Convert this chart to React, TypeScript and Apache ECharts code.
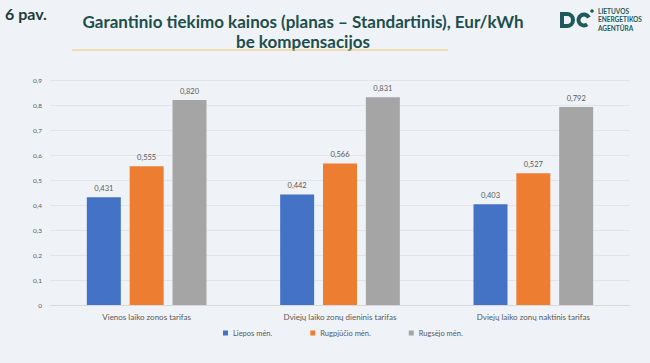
import React, { useEffect, useRef } from "react";
import * as echarts from "echarts";

const categories = [
  "Vienos laiko zonos tarifas",
  "Dviejų laiko zonų dieninis tarifas",
  "Dviejų laiko zonų naktinis tarifas",
];
const seriesNames = ["Liepos mėn.", "Rugpjūčio mėn.", "Rugsėjo mėn."];
const liepos = [0.431, 0.442, 0.403];
const rugpjucio = [0.555, 0.566, 0.527];
const rugsejo = [0.82, 0.831, 0.792];
const colors = ["#4472c4", "#ed7d31", "#a5a5a5"];

echarts.graphic.registerShape(
  "logoD",
  echarts.graphic.extendPath("M2,2 L7,2 A6,6 0 0 1 7,14 L2,14 Z", {})
);

export default function App() {
  const ref = useRef<HTMLDivElement>(null);
  useEffect(() => {
    if (!ref.current) return;
    const chart = echarts.init(ref.current, undefined, { renderer: "svg" });
    const fmt = (v: number) => (v === 0 ? "0" : String(Math.round(v * 10) / 10).replace(".", ","));
    const dataSets = [liepos, rugpjucio, rugsejo];
    chart.setOption({
      animation: false,
      backgroundColor: "#eff3f7",
      textStyle: { fontFamily: "Lato" },
      grid: { left: 50, right: 20, top: 80, bottom: 58 },
      legend: {
        data: seriesNames,
        top: 329,
        left: 223,
        padding: 0,
        icon: "rect",
        itemWidth: 5,
        itemHeight: 5,
        itemGap: 38,
        textStyle: { fontSize: 7.5, color: "#595959", fontFamily: "Lato" },
      },
      xAxis: {
        type: "category",
        data: categories,
        axisLine: { lineStyle: { color: "#d9d9d9" } },
        axisTick: { show: false },
        axisLabel: { fontSize: 8, color: "#595959", margin: 8, fontFamily: "Lato" },
      },
      yAxis: {
        type: "value",
        min: 0,
        max: 0.9,
        interval: 0.1,
        axisLabel: { fontSize: 6.5, color: "#595959", formatter: fmt, margin: 8, fontFamily: "Lato" },
        splitLine: { lineStyle: { color: "#e1e5ea" } },
        axisLine: { show: false },
        axisTick: { show: false },
      },
      series: dataSets.map((d, i) => ({
        name: seriesNames[i],
        type: "bar",
        data: d,
        barWidth: 34,
        barGap: "26%",
        itemStyle: { color: colors[i] },
        label: {
          show: true,
          position: "top",
          distance: 5,
          fontSize: 7.5,
          color: "#595959",
          fontFamily: "Lato",
          formatter: (p: any) => p.value.toFixed(3).replace(".", ","),
        },
      })),
      graphic: [
        {
          type: "text",
          left: 5,
          top: 5,
          style: { text: "6 pav.", fontSize: 16, fontWeight: "bold", fill: "#1f3a3a", fontFamily: "Lato" },
        },
        {
          type: "text",
          x: 303,
          y: 21,
          style: {
            text: "Garantinio tiekimo kainos (planas – Standartinis), Eur/kWh",
            fontSize: 17,
            fontWeight: "bold",
            fill: "#1d4e4e",
            fontFamily: "Lato",
            align: "center",
            verticalAlign: "middle",
          },
        },
        {
          type: "text",
          x: 303,
          y: 41,
          style: {
            text: "be kompensacijos",
            fontSize: 17,
            fontWeight: "bold",
            fill: "#1d4e4e",
            fontFamily: "Lato",
            align: "center",
            verticalAlign: "middle",
          },
        },
        {
          type: "line",
          shape: { x1: 72, y1: 50, x2: 448, y2: 50 },
          style: { stroke: "#f0c878", lineWidth: 1.2 },
        },
        {
          type: "logoD",
          x: 560,
          y: 12,
          scaleX: 1,
          scaleY: 1,
          style: { fill: "none", stroke: "#1e5a5a", lineWidth: 4 },
        },
        {
          type: "arc",
          shape: { cx: 584, cy: 20, r: 5.5, startAngle: Math.PI * 0.3, endAngle: Math.PI * 1.85 },
          style: { stroke: "#1e5a5a", lineWidth: 4, fill: "none" },
        },
        {
          type: "circle",
          shape: { cx: 592, cy: 11, r: 1.8 },
          style: { fill: "#1e5a5a" },
        },
        {
          type: "text",
          x: 598,
          y: 7,
          style: {
            text: "LIETUVOS\nENERGETIKOS\nAGENTŪRA",
            fontSize: 6.5,
            lineHeight: 8.5,
            fontWeight: "bold",
            fill: "#1e5a5a",
            fontFamily: "Lato",
          },
        },
      ],
    });
    return () => chart.dispose();
  }, []);
  return <div ref={ref} style={{ width: 650, height: 363, position: "fixed", left: 0, top: 0 }} />;
}
